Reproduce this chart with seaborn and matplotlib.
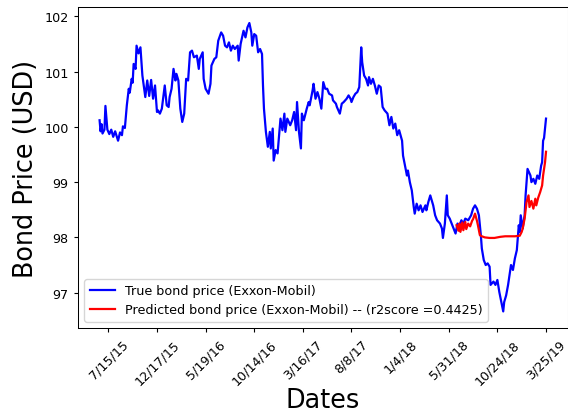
import matplotlib
matplotlib.use("Agg")
import matplotlib.pyplot as plt
import seaborn as sns
import pandas as pd

# Observation index and closing bond price (USD) for the Exxon-Mobil bond
true_idx = [1, 2, 3, 4, 6, 7, 9, 11, 13, 15, 17, 20, 22, 24, 25, 27,
            29, 31, 32, 34, 35, 36, 38, 39, 41, 43, 45, 48, 50, 52, 54, 56,
            58, 60, 61, 63, 65, 67, 68, 70, 72, 73, 75, 77, 79, 80, 82, 84,
            86, 88, 90, 92, 94, 96, 98, 101, 103, 104, 107, 108, 110, 113, 115, 116,
            119, 121, 123, 126, 128, 130, 132, 134, 136, 138, 140, 143, 144, 146, 149, 151,
            153, 155, 157, 158, 160, 162, 164, 166, 168, 169, 170, 172, 174, 176, 177, 179,
            180, 182, 184, 186, 187, 189, 191, 192, 194, 197, 199, 201, 203, 204, 206, 208,
            209, 211, 214, 216, 217, 220, 221, 223, 225, 227, 229, 231, 233, 235, 237, 240,
            241, 244, 245, 248, 250, 252, 255, 257, 259, 260, 262, 264, 266, 268, 270, 271,
            273, 275, 277, 278, 280, 282, 284, 286, 288, 290, 292, 294, 297, 299, 301, 303,
            305, 307, 309, 312, 313, 315, 317, 318, 320, 322, 324, 325, 327, 329, 331, 333,
            336, 337, 339, 341, 344, 346, 348, 351, 353, 354, 356, 358, 359, 361, 363, 365,
            367, 369, 371, 373, 375, 377, 380, 383, 385, 387, 389, 391, 393, 394, 396, 398,
            400, 402, 403, 406, 408, 410, 412, 414, 416, 417, 419, 421, 423, 424, 426, 428,
            430, 432, 433, 434, 436, 438, 439, 441, 444, 445, 447, 449, 451, 453, 455, 456,
            457, 458, 460]
true_price = [100.12, 99.92, 100.05, 99.88, 99.95, 100.38, 99.95, 99.87, 99.95, 99.82, 99.92, 99.75, 99.90, 99.85, 100.01, 99.98,
              100.39, 100.69, 100.62, 100.87, 100.80, 101.14, 101.05, 101.47, 101.33, 101.44, 100.93, 100.54, 100.84, 100.56, 100.85, 100.51,
              100.75, 100.27, 100.30, 100.24, 100.33, 100.60, 100.75, 100.39, 100.36, 100.54, 100.69, 101.05, 100.84, 100.96, 100.84, 100.33,
              100.09, 100.24, 100.87, 100.84, 101.35, 101.38, 101.26, 101.29, 101.05, 101.23, 101.35, 100.87, 100.69, 100.60, 100.78, 101.11,
              101.23, 101.26, 101.56, 101.71, 101.65, 101.47, 101.44, 101.53, 101.38, 101.47, 101.41, 101.47, 101.20, 101.50, 101.74, 101.62,
              101.80, 101.88, 101.71, 101.47, 101.68, 101.65, 101.35, 101.41, 101.32, 100.75, 100.33, 99.91, 99.64, 99.91, 99.61, 99.97,
              99.39, 99.58, 99.52, 99.94, 100.15, 99.94, 100.24, 99.91, 100.15, 100.03, 100.12, 100.27, 99.94, 100.45, 99.91, 99.61,
              100.24, 100.12, 100.33, 100.45, 100.39, 100.66, 100.78, 100.51, 100.63, 100.51, 100.33, 100.81, 100.69, 100.69, 100.60, 100.57,
              100.48, 100.42, 100.36, 100.24, 100.42, 100.45, 100.51, 100.57, 100.51, 100.45, 100.54, 100.60, 100.63, 100.72, 101.44, 101.17,
              100.93, 100.87, 100.75, 100.90, 100.78, 100.87, 100.75, 100.60, 100.75, 100.72, 100.36, 100.30, 100.24, 100.03, 100.18, 99.97,
              100.06, 99.85, 99.94, 99.75, 99.48, 99.30, 99.12, 99.21, 99.00, 98.85, 98.55, 98.43, 98.61, 98.49, 98.58, 98.46,
              98.58, 98.49, 98.64, 98.76, 98.58, 98.40, 98.31, 98.25, 98.16, 97.99, 98.25, 98.76, 98.40, 98.34, 98.25, 98.16,
              98.07, 98.25, 98.22, 98.31, 98.25, 98.34, 98.31, 98.40, 98.52, 98.58, 98.52, 98.40, 98.04, 97.80, 97.59, 97.50,
              97.53, 97.47, 97.14, 97.20, 97.14, 97.23, 97.01, 96.83, 96.66, 96.83, 96.95, 97.14, 97.38, 97.50, 97.41, 97.62,
              97.77, 98.22, 98.10, 98.40, 98.16, 98.40, 98.76, 99.24, 99.12, 99.00, 99.06, 98.97, 99.12, 99.06, 99.30, 99.36,
              99.75, 99.80, 100.15]

# Model output over the test window
pred_idx = [368, 370, 371, 372, 374, 375, 377, 378, 380, 382, 384, 385, 387, 389, 390, 392,
            394, 397, 402, 407, 413, 418, 423, 428, 433, 435, 436, 438, 440, 442, 443, 445,
            447, 449, 450, 452, 454, 456, 457, 459, 460]
pred_price = [98.22, 98.12, 98.25, 98.10, 98.27, 98.13, 98.28, 98.15, 98.25, 98.20, 98.30, 98.33, 98.43, 98.30, 98.22, 98.04,
              98.02, 98.00, 97.99, 97.99, 98.01, 98.02, 98.02, 98.02, 98.03, 98.10, 98.16, 98.34, 98.64, 98.76, 98.55, 98.66,
              98.52, 98.70, 98.58, 98.72, 98.82, 98.94, 99.12, 99.36, 99.55]

tick_pos = [10, 60, 110, 160, 210, 260, 310, 360, 410, 460]
tick_labels = ["7/15/15", "12/17/15", "5/19/16", "10/14/16", "3/16/17",
               "8/8/17", "1/4/18", "5/31/18", "10/24/18", "3/25/19"]

true_df = pd.DataFrame({"idx": true_idx, "price": true_price})
pred_df = pd.DataFrame({"idx": pred_idx, "price": pred_price})

s = 0.92  # overall text/tick scale
plt.rcParams.update({
    "xtick.labelsize": 10 * s,
    "ytick.labelsize": 10 * s,
    "xtick.major.size": 3.5 * s,
    "ytick.major.size": 3.5 * s,
    "axes.linewidth": 0.8 * s,
})

fig = plt.figure(figsize=(5.68, 4.14), dpi=100)
ax = fig.add_axes([78 / 568, 85 / 414, 489.7 / 568, 321 / 414])

sns.lineplot(data=true_df, x="idx", y="price", ax=ax, color="blue",
             linewidth=1.6, sort=False, estimator=None,
             label="True bond price (Exxon-Mobil)")
sns.lineplot(data=pred_df, x="idx", y="price", ax=ax, color="red",
             linewidth=1.6, sort=False, estimator=None,
             label="Predicted bond price (Exxon-Mobil) -- (r2score =0.4425)")

ax.set_xlim(-21.2, 482.3)
ax.set_ylim(96.36, 102.17)
ax.set_yticks([97, 98, 99, 100, 101, 102])
ax.set_xticks(tick_pos)
ax.set_xticklabels(tick_labels, rotation=45)
ax.set_xlabel("Dates", fontsize=20 * s, labelpad=0)
ax.set_ylabel("Bond Price (USD)", fontsize=20 * s)
ax.legend(loc="lower left", fontsize=10 * s)

fig.savefig("out.png", dpi=100)
